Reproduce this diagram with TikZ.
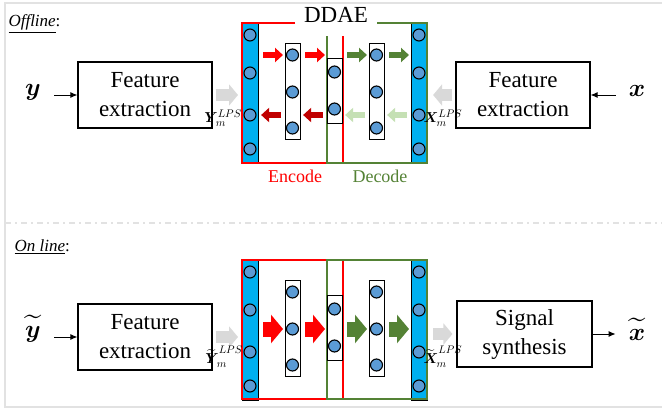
\documentclass[tikz,border=0pt]{standalone}
\usepackage{amsmath,amssymb}
\usepackage{fontspec}
\setmainfont{Liberation Serif}
\usetikzlibrary{arrows.meta,positioning,calc}
\definecolor{encred}{HTML}{FF0000}
\definecolor{encdark}{HTML}{C00000}
\definecolor{decgreen}{HTML}{548235}
\definecolor{declight}{HTML}{C5E0B4}
\definecolor{barblue}{HTML}{00B0F0}
\definecolor{unitblue}{HTML}{5B9BD5}
\definecolor{graypipe}{HTML}{D9D9D9}
\definecolor{framegray}{HTML}{E2E2E2}
\tikzset{
	feat box/.style={
		draw=black, line width=1.1pt,
		minimum width=134pt, minimum height=66pt,
		align=center, font=\fontsize{23}{29}\selectfont
	},
	in bar/.style={
		draw=black, line width=1.1pt, fill=barblue,
		minimum width=16pt, minimum height=140pt,
		inner sep=0pt, anchor=north west
	},
	hid box/.style={
		draw=black, line width=1.1pt, fill=white,
		minimum width=15pt, inner sep=0pt, anchor=north west
	},
	unit/.style={circle, draw=black, line width=1.1pt, fill=unitblue, minimum size=12pt, inner sep=0pt},
	sig/.style={font=\fontsize{31}{32}\selectfont, inner sep=1pt},
	lps/.style={font=\fontsize{15}{16}\selectfont, inner sep=0pt},
	mode title/.style={anchor=west, font=\fontsize{17}{18}\selectfont},
	thin arrow/.style={-{Latex[length=7pt,width=6pt]}, line width=1pt},
	pipe arrow/.style={graypipe, line width=12pt, -{Triangle[length=9pt,width=21pt]}, shorten <=3pt, shorten >=4pt},
	small arrow/.style={line width=6pt, -{Triangle[length=8pt,width=14pt]}, shorten <=4pt, shorten >=2pt},
	big arrow/.style={line width=15pt, -{Triangle[length=12pt,width=28pt]}, shorten <=4pt, shorten >=2pt}
}

\begin{document}
\begin{tikzpicture}[x=1pt,y=-1pt]
	\useasboundingbox (0,0) rectangle (662,410);
	
	% frame
	\draw[framegray, line width=1.5pt] (662,3) -- (5,3) -- (5,407) -- (662,407);
	\draw[framegray, line width=1.5pt, dash pattern=on 6pt off 4pt on 2pt off 4pt] (5,223) -- (662,223);
	
	\node[mode title] (off) at (5,24) {\underline{\textit{Offline}}:};
	\node[mode title] (on) at (11,247) {\underline{\textit{On line}}:};
	
	% DDAE bars
	\foreach \p/\t in {T/23, B/260} {
		\node[in bar] (in\p) at (242,\t) {};
		\node[in bar] (out\p) at (411,\t) {};
	}
	
	% encode / decode frames
	\draw[encred, line width=1.3pt] (295,23) -- (242,23) -- (242,163) -- (343,163) -- (343,36);
	\draw[decgreen, line width=1.3pt] (377,23) -- (427,23) -- (427,163) -- (327,163) -- (327,36);
	\draw[encred, line width=1.3pt] (242,260) rectangle (343,399);
	\draw[decgreen, line width=1.3pt] (327,260) rectangle (427,399);
	
	% hidden layers and units
	\foreach \p/\t in {T/23, B/260} {
		\node[hid box, minimum height=96pt] (h1\p) at (285,\t+20) {};
		\node[hid box, minimum height=65pt] (mid\p) at (327,\t+35) {};
		\node[hid box, minimum height=96pt] (h2\p) at (369,\t+20) {};
		\foreach \r [count=\k] in {12,50,92,126} {
			\node[unit] (in\p\k) at (250,\t+\r) {};
			\node[unit] (out\p\k) at (419,\t+\r) {};
		}
		\foreach \r [count=\k] in {32,69,105} {
			\node[unit] (h1\p\k) at (292.5,\t+\r) {};
			\node[unit] (h2\p\k) at (376.5,\t+\r) {};
		}
		\foreach \r [count=\k] in {49,86}
			\node[unit] (mid\p\k) at (334.5,\t+\r) {};
	}
	
	\node[font=\fontsize{23}{24}\selectfont] (ddae) at (336,15) {DDAE};
	\node[font=\fontsize{18}{20}\selectfont, text=encred] (enc) at (295,176) {Encode};
	\node[font=\fontsize{18}{20}\selectfont, text=decgreen] (dec) at (380,176) {Decode};
	
	% offline arrows inside DDAE
	\draw[small arrow, encred] (inT.east |- h1T1) -- (h1T.west |- h1T1);
	\draw[small arrow, encred] (h1T.east |- h1T1) -- (midT.west |- h1T1);
	\draw[small arrow, decgreen] (midT.east |- h1T1) -- (h2T.west |- h1T1);
	\draw[small arrow, decgreen] (h2T.east |- h1T1) -- (outT.west |- h1T1);
	\draw[small arrow, declight] (outT.west |- inT3) -- (h2T.east |- inT3);
	\draw[small arrow, declight] (h2T.west |- inT3) -- (midT.east |- inT3);
	\draw[small arrow, encdark] (midT.west |- inT3) -- (h1T.east |- inT3);
	\draw[small arrow, encdark] (h1T.west |- inT3) -- (inT.east |- inT3);
	
	% online arrows inside DDAE
	\draw[big arrow, encred] (inB.east |- h1B2) -- (h1B.west |- h1B2);
	\draw[big arrow, encred] (h1B.east |- h1B2) -- (midB.west |- h1B2);
	\draw[big arrow, decgreen] (midB.east |- h1B2) -- (h2B.west |- h1B2);
	\draw[big arrow, decgreen] (h2B.east |- h1B2) -- (outB.west |- h1B2);
	
	% offline chain
	\node[sig] (ysymT) at (33,92) {$\boldsymbol{y}$};
	\node[feat box] (featL) at (145,95) {Feature\\extraction};
	\node[feat box] (featR) at (523,95) {Feature\\extraction};
	\node[sig] (xsymT) at (637,91) {$\boldsymbol{x}$};
	\draw[thin arrow, shorten <=12pt] (ysymT.east |- featL.west) -- (featL.west);
	\draw[thin arrow, shorten <=12pt] (xsymT.west |- featR.east) -- (featR.east);
	\draw[pipe arrow] (featL.east) -- (inT.west |- featL.east);
	\draw[pipe arrow, shorten >=5pt] (featR.west) -- (outT.east |- featR.west);
	\node[lps] (ylpsT) at (223,118) {$\boldsymbol{Y}_{\!m}^{LPS}$};
	\node[lps] (xlpsT) at (443,118) {$\boldsymbol{X}_{\!m}^{LPS}$};
	
	% online chain
	\node[sig] (ysymB) at (33,329) {$\widetilde{\boldsymbol{y}}$};
	\node[feat box] (featB) at (145,337) {Feature\\extraction};
	\node[feat box, minimum width=135pt] (synth) at (524.5,334) {Signal\\synthesis};
	\node[sig] (xsymB) at (637,329) {$\widetilde{\boldsymbol{x}}$};
	\draw[thin arrow, shorten <=12pt] (ysymB.east |- featB.west) -- (featB.west);
	\draw[thin arrow, shorten >=12pt] (synth.east) -- (xsymB.west |- synth.east);
	\draw[pipe arrow] (featB.east) -- (inB.west |- featB.east);
	\draw[pipe arrow, shorten <=5pt] (outB.east |- synth.west) -- (synth.west);
	\node[lps] (ylpsB) at (224,357) {$\widetilde{\boldsymbol{Y}}_{\!m}^{LPS}$};
	\node[lps] (xlpsB) at (443,357) {$\widetilde{\boldsymbol{X}}_{\!m}^{LPS}$};
\end{tikzpicture}
\end{document}
